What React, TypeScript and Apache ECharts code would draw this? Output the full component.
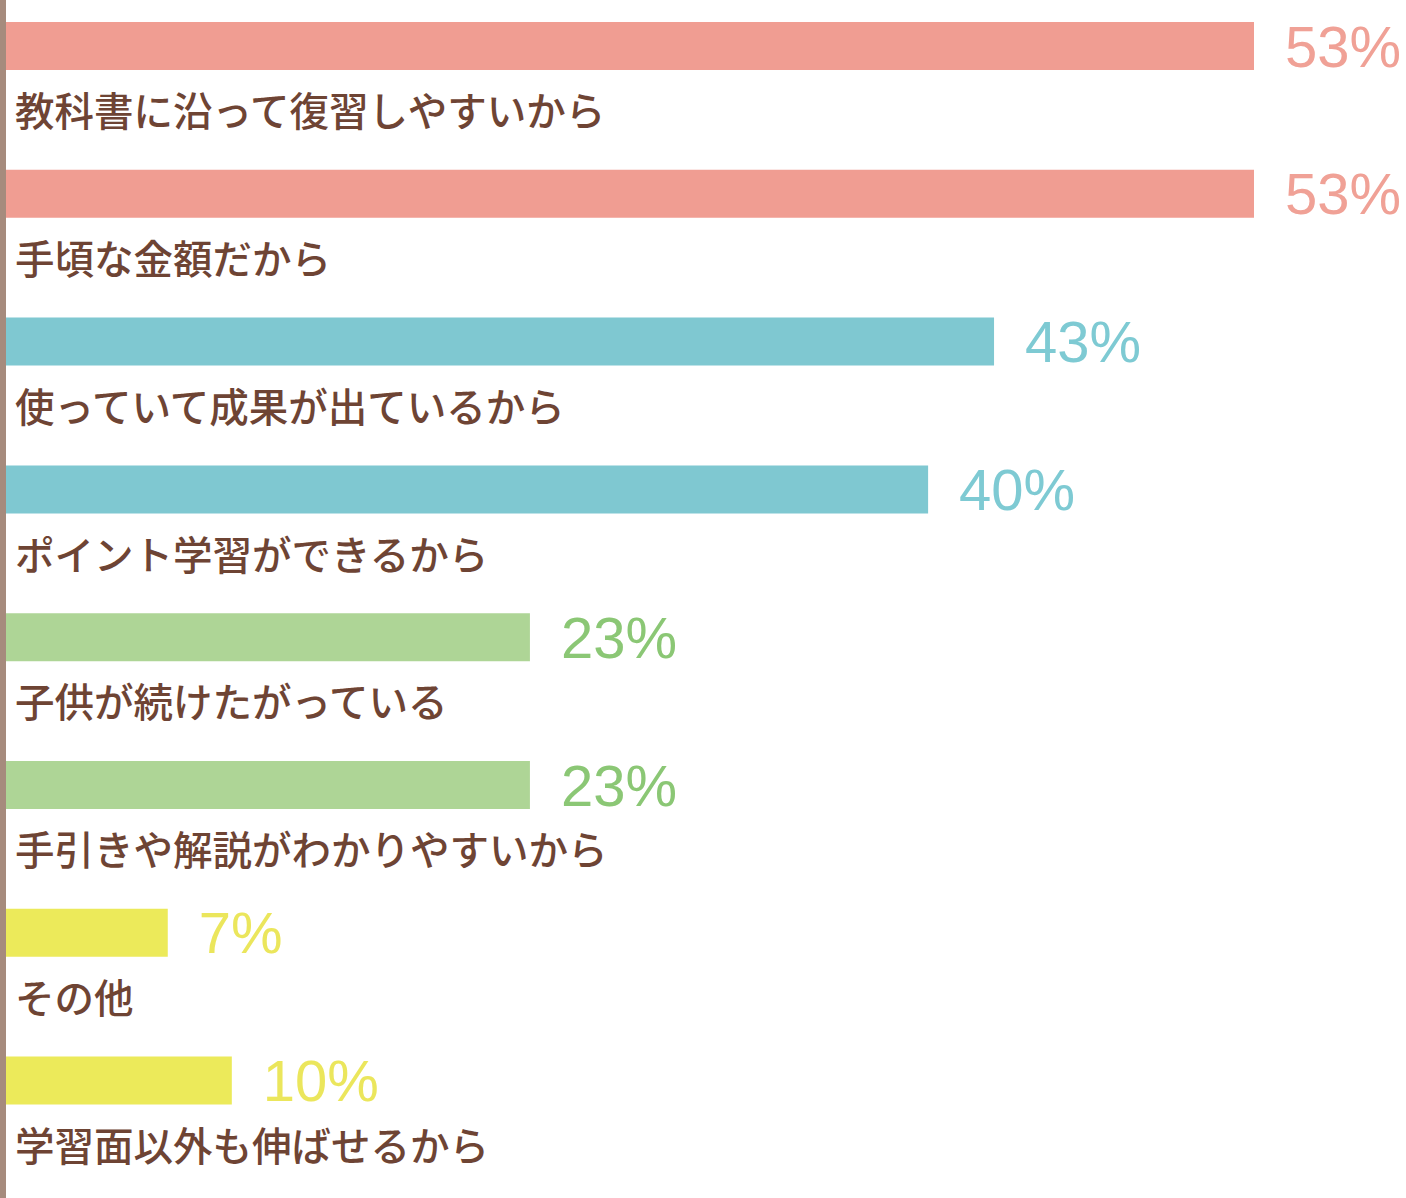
import React, { useEffect, useRef } from "react";
import * as echarts from "echarts";

const categories = [
  "教科書に沿って復習しやすいから",
  "手頃な金額だから",
  "使っていて成果が出ているから",
  "ポイント学習ができるから",
  "子供が続けたがっている",
  "手引きや解説がわかりやすいから",
  "その他",
  "学習面以外も伸ばせるから",
];
// bar lengths (same scale as the printed percentages)
const barValues = [53, 53, 41.96, 39.16, 22.25, 22.25, 6.87, 9.59];
const percentLabels = ["53%", "53%", "43%", "40%", "23%", "23%", "7%", "10%"];
const barColors = ["#f09d92", "#f09d92", "#7fc8d1", "#7fc8d1", "#aed596", "#aed596", "#ecea5a", "#ecea5a"];
const labelColors = ["#f0a196", "#f0a196", "#7ecad3", "#7ecad3", "#8bc775", "#8bc775", "#ebe65c", "#ebe65c"];

export default function App() {
  const ref = useRef<HTMLDivElement>(null);
  useEffect(() => {
    if (!ref.current) return;
    const chart = echarts.init(ref.current, null, { renderer: "svg" });
    const xMax = 59;
    const scale = 1248 / 53;
    const gridWidth = xMax * scale;
    const step = 147.8;
    const firstCenter = 46;
    const gridHeight = step * (categories.length - 1);
    chart.setOption({
      animation: false,
      backgroundColor: "#ffffff",
      grid: {
        left: 6,
        width: gridWidth,
        top: firstCenter,
        height: gridHeight,
        containLabel: false,
      },
      xAxis: {
        type: "value",
        min: 0,
        max: xMax,
        show: false,
      },
      yAxis: {
        type: "category",
        inverse: true,
        boundaryGap: false,
        data: categories,
        show: false,
      },
      graphic: [
        {
          type: "rect",
          shape: { x: 0, y: 0, width: 6, height: 1198 },
          style: { fill: "#a68b7d" },
          z: 10,
        },
      ],
      series: [
        {
          type: "bar",
          barWidth: 48,
          data: barValues.map((v, i) => ({
            value: v,
            itemStyle: { color: barColors[i] },
            label: { color: labelColors[i] },
          })),
          label: {
            show: true,
            position: "right",
            distance: 31,
            formatter: (p: any) => percentLabels[p.dataIndex],
            fontFamily: "Liberation Sans, Arial, sans-serif",
            fontSize: 58,
            fontWeight: "normal",
          },
        },
        {
          type: "bar",
          barWidth: 48,
          barGap: "-100%",
          silent: true,
          data: barValues,
          itemStyle: { color: "rgba(0,0,0,0)" },
          label: {
            show: true,
            position: [9, 67],
            formatter: "{b}",
            fontFamily: "Noto Sans CJK JP",
            fontSize: 39.5,
            fontWeight: 500,
            color: "#6e4434",
            align: "left",
            verticalAlign: "top",
          },
        },
      ],
    });
    return () => chart.dispose();
  }, []);
  return (
    <div
      ref={ref}
      style={{ position: "fixed", left: 0, top: 0, width: 1406, height: 1198 }}
    />
  );
}
